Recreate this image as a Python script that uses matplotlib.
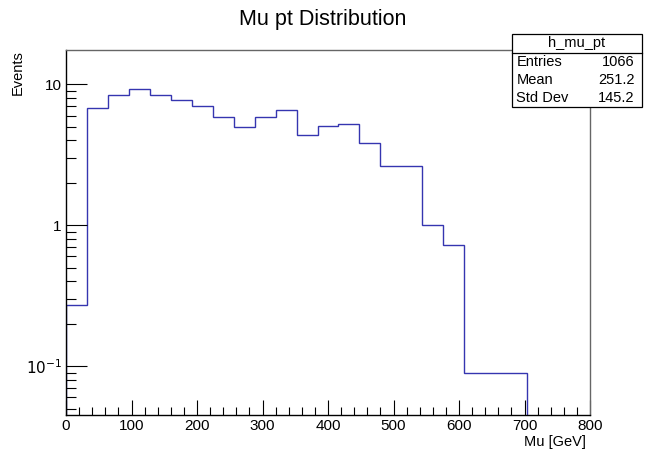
import numpy as np
import matplotlib
matplotlib.use('Agg')
import matplotlib.pyplot as plt
from matplotlib.ticker import MultipleLocator, LogLocator, FixedLocator, NullFormatter

plt.rcParams['font.family'] = ['Liberation Sans', 'DejaVu Sans']

# histogram h_mu_pt: 25 bins of 32 GeV from 0 to 800
bin_edges = np.linspace(0, 800, 26)
bin_values = [0.27, 6.8, 8.4, 9.3, 8.4, 7.7, 7.0, 5.85, 4.97, 5.85, 6.6, 4.36,
              5.07, 5.21, 3.83, 2.63, 2.63, 1.01, 0.727, 0.09, 0.09, 0.09,
              0.0, 0.0, 0.0]
stat_names = ['Entries', 'Mean', 'Std Dev']
stat_values = ['1066', '251.2', '145.2']

ymin, ymax = 0.045, 17.6

fig = plt.figure(figsize=(6.46, 4.5), dpi=100)
ax = fig.add_axes([66 / 646, 35 / 450, 524 / 646, 365.3 / 450])

vals = np.array(bin_values)
n = np.nonzero(vals)[0][-1] + 1
ax.stairs(vals[:n], bin_edges[:n + 1], baseline=ymin, color='#3535b0', lw=1.0)

ax.set_yscale('log')
ax.set_xlim(0, 800)
ax.set_ylim(ymin, ymax)

ax.xaxis.set_major_locator(MultipleLocator(100))
ax.xaxis.set_minor_locator(MultipleLocator(20))
ax.yaxis.set_major_locator(FixedLocator([0.1, 1, 10]))
ax.yaxis.set_minor_locator(LogLocator(base=10, subs=np.arange(2, 10)))
ax.yaxis.set_minor_formatter(NullFormatter())
ax.set_yticklabels(['$10^{-1}$', '1', '10'])

ax.tick_params(axis='both', which='both', direction='in', top=False, right=False,
               labelsize=11, colors='black')
ax.tick_params(axis='x', which='major', length=11, width=0.8, pad=3)
ax.tick_params(axis='x', which='minor', length=5.5, width=0.8)
ax.tick_params(axis='y', which='major', length=15, width=0.8, pad=3)
ax.tick_params(axis='y', which='minor', length=7.5, width=0.8)

for s in ['left', 'bottom']:
    ax.spines[s].set_color('black')
    ax.spines[s].set_linewidth(1.0)
for s in ['top', 'right']:
    ax.spines[s].set_color('#666666')
    ax.spines[s].set_linewidth(1.0)

fig.text(0.5, 1 - 20 / 450, 'Mu pt Distribution', ha='center', va='center', fontsize=15.5)
fig.text(18 / 646, 1 - 50 / 450, 'Events', rotation=90, ha='center', va='top', fontsize=10.5)
fig.text(586 / 646, 1 - 442 / 450, 'Mu [GeV]', ha='right', va='center', fontsize=10.5)

# stat box
bx0, bx1 = 511.5 / 646, 642.3 / 646
by_top, by_head, by_bot = 1 - 34 / 450, 1 - 52.7 / 450, 1 - 107.3 / 450
box = plt.Rectangle((bx0, by_bot), bx1 - bx0, by_top - by_bot, transform=fig.transFigure,
                    facecolor='white', edgecolor='black', lw=0.9, zorder=5)
fig.add_artist(box)
fig.add_artist(plt.Line2D([bx0, bx1], [by_head, by_head], transform=fig.transFigure,
                          color='black', lw=0.9, zorder=6))
fig.text((bx0 + bx1) / 2, (by_top + by_head) / 2, 'h_mu_pt', ha='center', va='center',
         fontsize=10.5, zorder=7)
row_h = (by_head - by_bot) / 3
for i, (name, val) in enumerate(zip(stat_names, stat_values)):
    yy = by_head - row_h * (i + 0.5)
    fig.text(bx0 + 5 / 646, yy, name, ha='left', va='center', fontsize=10.5, zorder=7)
    fig.text(bx1 - 8 / 646, yy, val, ha='right', va='center', fontsize=10.5, zorder=7)

fig.savefig('out.png', dpi=100)
